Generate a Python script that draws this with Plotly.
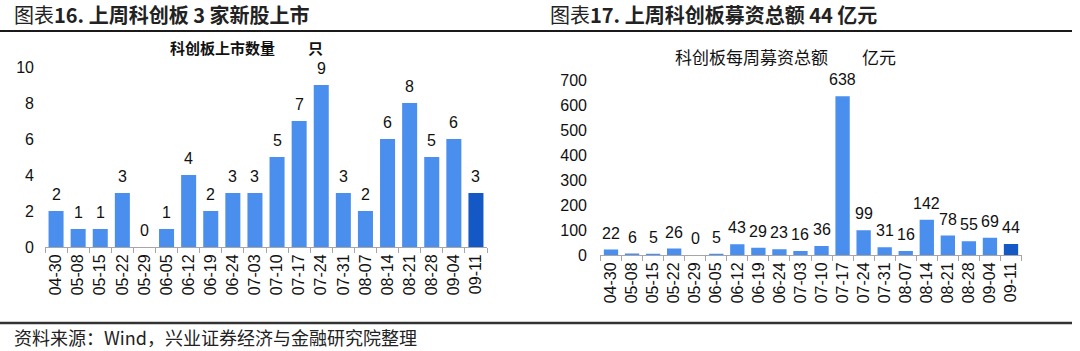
import plotly.graph_objects as go

dates = ["04-30", "05-08", "05-15", "05-22", "05-29", "06-05", "06-12", "06-19", "06-24", "07-03",
         "07-10", "07-17", "07-24", "07-31", "08-07", "08-14", "08-21", "08-28", "09-04", "09-11"]
listings = [2, 1, 1, 3, 0, 1, 4, 2, 3, 3, 5, 7, 9, 3, 2, 6, 8, 5, 6, 3]
funding = [22, 6, 5, 26, 0, 5, 43, 29, 23, 16, 36, 638, 99, 31, 16, 142, 78, 55, 69, 44]

left_yticks = [0, 2, 4, 6, 8, 10]
right_yticks = [0, 100, 200, 300, 400, 500, 600, 700]

W, H = 1080, 351
LIGHT = "#4A8EEE"
DARK = "#1358C4"


def px_x(x):
    return x / W


def px_y(y):
    return (H - y) / H


colors_l = [LIGHT] * (len(dates) - 1) + [DARK]
colors_r = [LIGHT] * (len(dates) - 1) + [DARK]

fig = go.Figure()
fig.add_trace(go.Bar(x=dates, y=listings, marker=dict(color=colors_l, line=dict(width=0)),
                     xaxis="x", yaxis="y", showlegend=False, hoverinfo="x+y"))
fig.add_trace(go.Bar(x=dates, y=funding, marker=dict(color=colors_r, line=dict(width=0)),
                     xaxis="x2", yaxis="y2", showlegend=False, hoverinfo="x+y"))

tickfont = dict(family="Liberation Sans, Arial", size=16, color="#111")
axis_common = dict(type="category", showgrid=False, showline=True, linecolor="#A6A6A6", linewidth=1,
                   ticks="outside", tickson="boundaries", ticklen=5, tickcolor="#A6A6A6",
                   tickangle=-90, tickfont=tickfont, fixedrange=True, automargin=False)

fig.update_layout(
    template="none",
    width=W, height=H, margin=dict(l=0, r=0, t=0, b=0, pad=0),
    paper_bgcolor="white", plot_bgcolor="white",
    bargap=0.32,
    xaxis=dict(domain=[px_x(45), px_x(487)], anchor="y", **axis_common),
    yaxis=dict(domain=[px_y(247), px_y(67)], range=[0, 10], tickvals=left_yticks,
               showgrid=False, zeroline=False, showline=False, ticks="", ticklabelstandoff=10,
               automargin=False, fixedrange=True,
               tickfont=dict(family="Liberation Sans, Arial", size=16, color="#111"), anchor="x"),
    xaxis2=dict(domain=[px_x(600), px_x(1022)], anchor="y2", **axis_common),
    yaxis2=dict(domain=[px_y(255), px_y(80.7)], range=[0, 700], tickvals=right_yticks,
                showgrid=False, zeroline=False, showline=False, ticks="", ticklabelstandoff=12,
                automargin=False, fixedrange=True,
                tickfont=dict(family="Liberation Sans, Arial", size=16, color="#111"), anchor="x2"),
)

cjk = "Noto Sans CJK SC"
annotations = [
    dict(text="图表<b>16. 上周科创板 3 家新股上市</b>", x=px_x(12), y=px_y(15), xanchor="left", yanchor="middle",
         xref="paper", yref="paper", font=dict(family=cjk, size=20, color="#222")),
    dict(text="图表<b>17. 上周科创板募资总额 44 亿元</b>", x=px_x(548), y=px_y(15), xanchor="left", yanchor="middle",
         xref="paper", yref="paper", font=dict(family=cjk, size=20, color="#222")),
    dict(text="<b>科创板上市数量</b>", x=px_x(168), y=px_y(47), xanchor="left", yanchor="middle",
         xref="paper", yref="paper", font=dict(family=cjk, size=15, color="#111")),
    dict(text="<b>只</b>", x=px_x(325), y=px_y(47), xanchor="right", yanchor="middle",
         xref="paper", yref="paper", font=dict(family=cjk, size=15, color="#111")),
    dict(text="科创板每周募资总额", x=px_x(673), y=px_y(57), xanchor="left", yanchor="middle",
         xref="paper", yref="paper", font=dict(family=cjk, size=17, color="#111")),
    dict(text="亿元", x=px_x(898), y=px_y(57), xanchor="right", yanchor="middle",
         xref="paper", yref="paper", font=dict(family=cjk, size=17, color="#111")),
    dict(text="资料来源：Wind，兴业证券经济与金融研究院整理", x=px_x(12), y=px_y(337), xanchor="left", yanchor="middle",
         xref="paper", yref="paper", font=dict(family=cjk, size=18, color="#222")),
]
# data labels above bars
for d, v in zip(dates, listings):
    annotations.append(dict(text=str(v), x=d, y=v, xref="x", yref="y", yanchor="bottom", yshift=6,
                            font=dict(family="Liberation Sans, Arial", size=16, color="#111")))
for d, v in zip(dates, funding):
    annotations.append(dict(text=str(v), x=d, y=v, xref="x2", yref="y2", yanchor="bottom", yshift=6,
                            font=dict(family="Liberation Sans, Arial", size=16, color="#111")))
for a in annotations:
    a.update(showarrow=False)
fig.update_layout(annotations=annotations)

fig.update_layout(shapes=[
    dict(type="line", xref="paper", yref="paper", x0=0, x1=px_x(1072), y0=px_y(31), y1=px_y(31),
         line=dict(color="#1a1a1a", width=2)),
    dict(type="line", xref="paper", yref="paper", x0=0, x1=px_x(1072), y0=px_y(323), y1=px_y(323),
         line=dict(color="#333", width=2.5)),
])

fig.write_html("out.html")
